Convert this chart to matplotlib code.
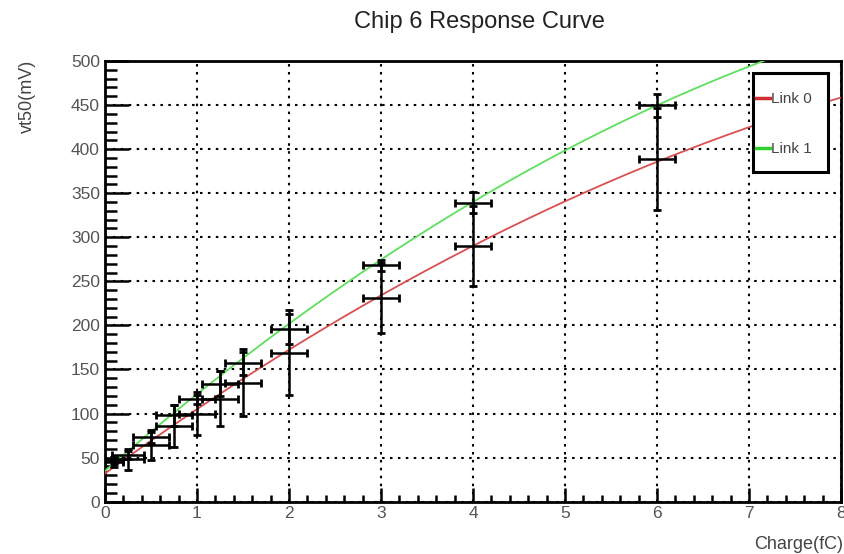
import numpy as np
import matplotlib
matplotlib.use("Agg")
import matplotlib.pyplot as plt
from matplotlib.ticker import MultipleLocator
from matplotlib.patches import Rectangle
from matplotlib.lines import Line2D

plt.rcParams['font.family'] = ['Liberation Sans', 'DejaVu Sans']

# charge points (fC) and measured vt50 (mV) for both links
charge = [0.1, 0.25, 0.5, 0.75, 1.0, 1.25, 1.5, 2.0, 3.0, 4.0, 6.0]
charge_err = [0.1, 0.17, 0.2, 0.2, 0.2, 0.2, 0.2, 0.2, 0.2, 0.2, 0.2]

link0_vt50 = [45, 48, 64, 86, 100, 117, 135, 169, 231, 290, 389]
link0_err = [6, 12, 17, 24, 24, 31, 38, 48, 40, 45, 58]

link1_vt50 = [47, 53, 73, 98, 116, 134, 157, 196, 268, 339, 450]
link1_err = [4, 5, 6, 12, 5, 14, 13, 17, 6, 12, 13]

# pol2 fit parameters (p0, p1, p2)
link0_fit = [32.0, 75.8, -2.81]
link1_fit = [35.0, 90.6, -3.58]

W, H = 845, 554
fig = plt.figure(figsize=(W / 100, H / 100), dpi=100)
ax = fig.add_axes([105 / W, 1 - 501.7 / H, (841 - 105) / W, (501.7 - 61) / H])

xfit = np.linspace(0, 8, 400)
for p, col in [(link0_fit, '#d95050'), (link1_fit, '#5ee05e')]:
    ax.plot(xfit, np.polyval(p[::-1], xfit), color=col, lw=1.3, zorder=3)

for vals, errs in [(link0_vt50, link0_err), (link1_vt50, link1_err)]:
    ax.errorbar(charge, vals, xerr=charge_err, yerr=errs, fmt='none',
                ecolor='black', elinewidth=1.8, capsize=2.9, capthick=2.0,
                zorder=4)

ax.set_xlim(0, 8)
ax.set_ylim(0, 500)
ax.xaxis.set_major_locator(MultipleLocator(1))
ax.xaxis.set_minor_locator(MultipleLocator(0.2))
ax.yaxis.set_major_locator(MultipleLocator(50))
ax.yaxis.set_minor_locator(MultipleLocator(10))

ax.grid(True, which='major', color='black', lw=1.5, linestyle=(0, (1.2, 2.6)))
ax.set_axisbelow(True)

for s in ax.spines.values():
    s.set_linewidth(2.0)

ax.tick_params(axis='both', which='both', direction='in', width=1.8,
               colors='black', labelcolor='#555555', labelsize=12.5,
               top=False, right=False)
ax.tick_params(axis='y', which='major', length=17, pad=3.6)
ax.tick_params(axis='y', which='minor', length=8.5)
ax.tick_params(axis='x', which='major', length=10, pad=3)
ax.tick_params(axis='x', which='minor', length=5)

fig.text(479 / W, 1 - 28 / H, 'Chip 6 Response Curve', ha='center',
         va='baseline', fontsize=17, color='#222222')
fig.text(27 / W, 1 - 60 / H, 'vt50(mV)', rotation=90, ha='center', va='top',
         fontsize=13, color='#444444')
fig.text(843 / W, 1 - 549 / H, 'Charge(fC)', ha='right', va='baseline',
         fontsize=13, color='#444444')

# legend box
box = Rectangle((752.7 / W, 1 - 172 / H), 75 / W, 99.5 / H,
                transform=fig.transFigure, facecolor='white',
                edgecolor='black', lw=2.2, zorder=4)
fig.add_artist(box)
handles = [Line2D([], [], color='#d03030', lw=2.5),
           Line2D([], [], color='#30d030', lw=2.5)]
leg = fig.legend(handles, ['Link 0', 'Link 1'], loc='upper left',
                 bbox_to_anchor=(756 / W, 1 - 92 / H), frameon=False,
                 borderpad=0, borderaxespad=0, handlelength=0.9,
                 handletextpad=0.1, labelspacing=2.36, fontsize=11)
leg.set_zorder(6)
for t in leg.get_texts():
    t.set_color('#444444')

fig.savefig('out.png', dpi=100)
